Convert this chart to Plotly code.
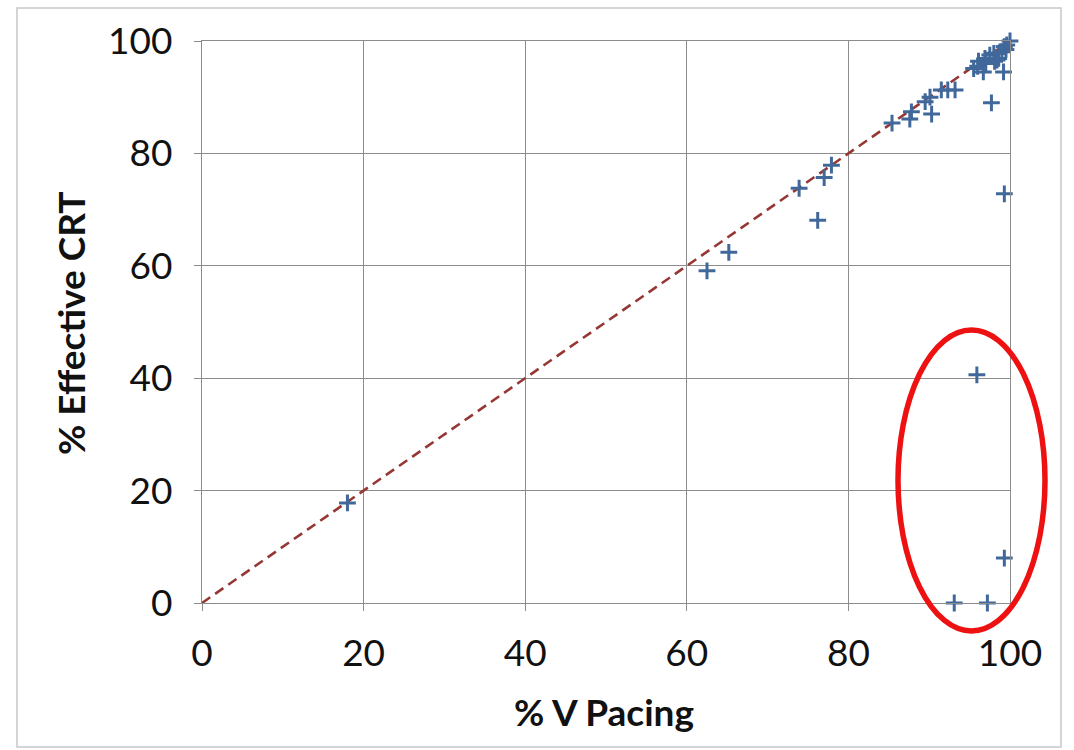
import plotly.graph_objects as go

# Data
v_pacing = [18.0, 62.5, 65.2, 73.9, 76.2, 77.0, 77.9, 85.4, 87.6, 87.8, 89.5, 90.1,
            90.3, 91.5, 92.3, 93.2, 95.5, 96.0, 96.1, 96.7, 96.9, 97.0, 97.5, 97.7,
            98.0, 98.1, 98.4, 98.6, 99.0, 99.2, 99.3, 99.3, 99.5, 99.6, 100.0,
            95.9, 99.3, 93.1, 97.2]
effective_crt = [17.8, 59.1, 62.4, 73.8, 68.1, 75.7, 77.9, 85.4, 86.1, 87.4, 89.2, 90.0,
                 87.0, 91.3, 91.3, 91.3, 95.1, 95.5, 96.4, 94.5, 96.9, 96.0, 97.5, 89.0,
                 97.8, 96.4, 96.6, 96.9, 98.1, 94.5, 72.8, 99.0, 98.5, 99.3, 100.0,
                 40.6, 8.0, 0.0, 0.0]
identity_x = [0, 100]
identity_y = [0, 100]
tick_vals = [0, 20, 40, 60, 80, 100]
x_title = "% V Pacing"
y_title = "% Effective CRT"

FONT = "Lato"
grid_col = "#8c8c8c"
text_col = "#111111"

fig = go.Figure()
fig.add_trace(go.Scatter(
    x=identity_x, y=identity_y, mode="lines",
    line=dict(color="#953735", width=2.6, dash="10px,6px"),
    showlegend=False, hoverinfo="skip"))
fig.add_trace(go.Scatter(
    x=v_pacing, y=effective_crt, mode="markers", cliponaxis=False,
    marker=dict(symbol="cross-thin", size=12, line=dict(color="#41689a", width=3)),
    showlegend=False))

axis_common = dict(
    range=[0, 100], tickvals=tick_vals, showgrid=True, gridcolor=grid_col, gridwidth=1.3,
    showline=True, linecolor=grid_col, linewidth=1.3, ticks="outside", ticklen=7,
    tickcolor=grid_col, tickwidth=1.3, zeroline=False, mirror=True,
    tickfont=dict(family=FONT, size=37, color=text_col), fixedrange=True)

fig.update_xaxes(**axis_common, ticklabelstandoff=10)
fig.update_yaxes(**axis_common, ticklabelstandoff=14)

L, R, T, B = 202, 64, 41, 147
PW, PH = 1074 - L - R, 750 - T - B

def px(xp):
    return (xp - L) / PW

def py(yp):
    return (750 - B - yp) / PH

fig.update_layout(
    width=1074, height=750, margin=dict(l=L, r=R, t=T, b=B),
    plot_bgcolor="white", paper_bgcolor="white",
    annotations=[
        dict(text="<b>" + x_title + "</b>", xref="paper", yref="paper",
             x=px(604), y=py(712), xanchor="center", yanchor="middle", showarrow=False,
             font=dict(family=FONT, size=37, color=text_col)),
        dict(text="<b>" + y_title + "</b>", xref="paper", yref="paper",
             x=px(70), y=py(323), xanchor="center", yanchor="middle", showarrow=False,
             textangle=-90, font=dict(family=FONT, size=37, color=text_col)),
    ],
    shapes=[
        dict(type="circle", xref="paper", yref="paper",
             x0=px(898), x1=px(1045), y0=py(631), y1=py(330),
             line=dict(color="#ee1111", width=5.5)),
        dict(type="rect", xref="paper", yref="paper",
             x0=px(17), x1=px(1061), y0=py(747), y1=py(8),
             line=dict(color="#c8c8c8", width=1.5)),
    ],
)

fig.write_html("out.html")
